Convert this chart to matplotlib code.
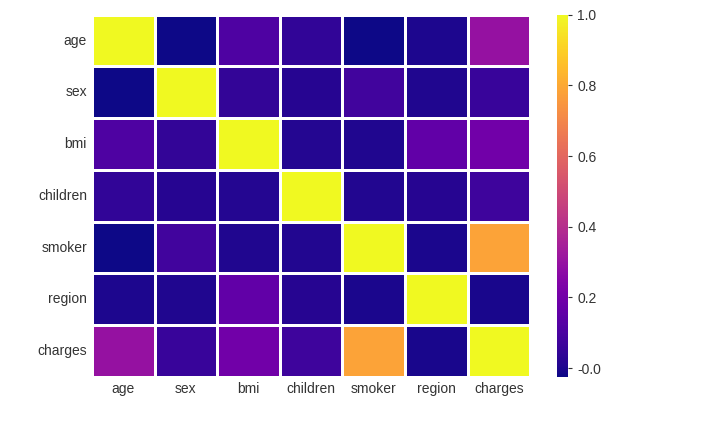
import numpy as np
import matplotlib
matplotlib.use("Agg")
import matplotlib.pyplot as plt
import seaborn as sns

labels = ["age", "sex", "bmi", "children", "smoker", "region", "charges"]
age = [1.0, -0.021, 0.109, 0.042, -0.025, 0.002, 0.299]
sex = [-0.021, 1.0, 0.046, 0.017, 0.076, 0.005, 0.057]
bmi = [0.109, 0.046, 1.0, 0.013, 0.004, 0.158, 0.198]
children = [0.042, 0.017, 0.013, 1.0, 0.008, 0.017, 0.068]
smoker = [-0.025, 0.076, 0.004, 0.008, 1.0, -0.002, 0.787]
region = [0.002, 0.005, 0.158, 0.017, -0.002, 1.0, -0.006]
charges = [0.299, 0.057, 0.198, 0.068, 0.787, -0.006, 1.0]
corr = np.array([age, sex, bmi, children, smoker, region, charges])

sns.set_style("white")
plt.rcParams['font.family'] = ['Liberation Sans', 'DejaVu Sans']
fig = plt.figure(figsize=(7.12, 4.22), dpi=100)
ax = fig.add_axes([0.129, 0.107, 0.616, 0.858])
cax = fig.add_axes([0.782, 0.107, 0.016, 0.858])
sns.heatmap(corr, cmap="plasma", linewidths=0.8, linecolor="white",
            xticklabels=labels, yticklabels=labels, ax=ax, cbar_ax=cax)
ax.tick_params(axis="both", length=0, labelsize=10, colors="#333333")
plt.setp(ax.get_yticklabels(), rotation=0)
plt.setp(ax.get_xticklabels(), rotation=0)
cax.tick_params(labelsize=10, colors="#333333", length=3)
cax.set_yticks([0.0, 0.2, 0.4, 0.6, 0.8, 1.0])
cax.set_yticklabels(["\u22120.0" if False else "-0.0", "0.2", "0.4", "0.6", "0.8", "1.0"])
fig.savefig("out.png", dpi=100)
